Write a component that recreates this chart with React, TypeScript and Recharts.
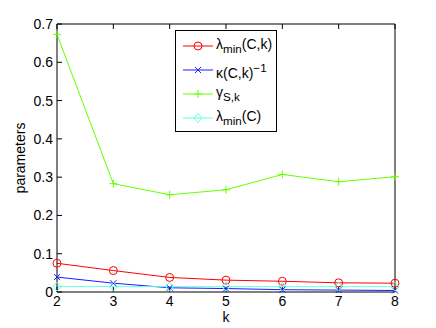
import { LineChart, Line, XAxis, YAxis, Label } from "recharts";

const ks = [2, 3, 4, 5, 6, 7, 8];
const lambdaMinCk = [0.075, 0.056, 0.038, 0.031, 0.028, 0.024, 0.023];
const kappaInv = [0.039, 0.023, 0.011, 0.009, 0.006, 0.005, 0.004];
const gammaSk = [0.673, 0.283, 0.254, 0.267, 0.307, 0.288, 0.301];
const lambdaMinC = [0.014, 0.014, 0.014, 0.014, 0.014, 0.014, 0.014];
const yTicks = [0, 0.1, 0.2, 0.3, 0.4, 0.5, 0.6, 0.7];

const data = ks.map((k, i) => ({
  k,
  lmck: lambdaMinCk[i],
  kinv: kappaInv[i],
  gam: gammaSk[i],
  lmc: lambdaMinC[i],
}));

const RED = "#ff0000";
const BLUE = "#1a1aff";
const GREEN = "#66ff00";
const CYAN = "#66ffdd";
const font = "'Liberation Sans', Arial, sans-serif";

function Marker({ type, cx, cy, color }: { type: string; cx: number; cy: number; color: string }) {
  if (type === "circle")
    return <circle cx={cx} cy={cy} r={4} fill="none" stroke={color} strokeWidth={1} />;
  if (type === "x")
    return (
      <path d={`M${cx - 3},${cy - 3}L${cx + 3},${cy + 3}M${cx - 3},${cy + 3}L${cx + 3},${cy - 3}`} stroke={color} strokeWidth={1} />
    );
  if (type === "plus")
    return <path d={`M${cx - 4},${cy}L${cx + 4},${cy}M${cx},${cy - 4}L${cx},${cy + 4}`} stroke={color} strokeWidth={1} />;
  return (
    <path d={`M${cx},${cy - 4.5}L${cx + 4},${cy}L${cx},${cy + 4.5}L${cx - 4},${cy}Z`} fill="none" stroke={color} strokeWidth={1} />
  );
}

const dotFor = (type: string, color: string) => (p: any) =>
  <Marker key={`${type}-${p.index}`} type={type} cx={p.cx} cy={p.cy} color={color} />;

const legendItems = [
  { type: "circle", color: RED, label: <>λ<sub>min</sub>(C,k)</> },
  { type: "x", color: BLUE, label: <>κ(C,k)<sup>−1</sup></> },
  { type: "plus", color: GREEN, label: <>γ<sub>S,k</sub></> },
  { type: "diamond", color: CYAN, label: <>λ<sub>min</sub>(C)</> },
];

function LegendBox() {
  return (
    <div
      style={{
        position: "absolute",
        left: 175,
        top: 30,
        border: "1px solid #000",
        background: "#fff",
        width: 102,
        height: 102,
        boxSizing: "border-box",
        padding: "3px 0 0 6px",
        fontFamily: font,
        fontSize: 14,
        color: "#000",
      }}
    >
      {legendItems.map((it, i) => (
        <div key={i} style={{ display: "flex", alignItems: "center", height: 24, lineHeight: "14px" }}>
          <svg width={32} height={14} style={{ flex: "none" }}>
            <line x1={1} y1={7} x2={31} y2={7} stroke={it.color} strokeWidth={1} />
            <Marker type={it.type} cx={16} cy={7} color={it.color} />
          </svg>
          <span style={{ marginLeft: 2, whiteSpace: "nowrap" }}>{it.label}</span>
        </div>
      ))}
    </div>
  );
}

export default function App() {
  const tickStyle = { fontSize: 14, fill: "#000", fontFamily: font };
  return (
    <div style={{ position: "absolute", left: 0, top: 0, width: 436, height: 328, background: "#fff" }}>
      <LineChart width={436} height={328} data={data} margin={{ top: 23, right: 40, bottom: 0, left: 0 }}>
        <XAxis
          xAxisId="b"
          dataKey="k"
          type="number"
          domain={[2, 8]}
          ticks={ks}
          height={36}
          tickSize={-5}
          tickMargin={9}
          stroke="#000"
          tick={tickStyle}
        >
          <Label value="k" position="insideBottom" offset={6} style={{ fontSize: 14, fill: "#000", fontFamily: font }} />
        </XAxis>
        <XAxis
          xAxisId="t"
          dataKey="k"
          type="number"
          orientation="top"
          domain={[2, 8]}
          ticks={ks}
          height={1}
          tickSize={-5}
          tickFormatter={() => ""}
          stroke="#000"
        />
        <YAxis
          yAxisId="l"
          domain={[0, 0.7]}
          ticks={yTicks}
          width={57}
          tickSize={-5}
          tickMargin={9}
          stroke="#000"
          tick={tickStyle}
          tickFormatter={(v: number) => (v === 0 ? "0" : String(v))}
        >
          <Label
            value="parameters"
            angle={-90}
            position="insideLeft"
            offset={20}
            style={{ fontSize: 14, fill: "#000", fontFamily: font, textAnchor: "middle" }}
          />
        </YAxis>
        <YAxis
          yAxisId="r"
          orientation="right"
          domain={[0, 0.7]}
          ticks={yTicks}
          width={1}
          tickSize={-5}
          tickFormatter={() => ""}
          stroke="#000"
        />
        <Line xAxisId="b" yAxisId="l" dataKey="lmck" stroke={RED} strokeWidth={1} dot={dotFor("circle", RED)} isAnimationActive={false} />
        <Line xAxisId="b" yAxisId="l" dataKey="kinv" stroke={BLUE} strokeWidth={1} dot={dotFor("x", BLUE)} isAnimationActive={false} />
        <Line xAxisId="b" yAxisId="l" dataKey="gam" stroke={GREEN} strokeWidth={1} dot={dotFor("plus", GREEN)} isAnimationActive={false} />
        <Line xAxisId="b" yAxisId="l" dataKey="lmc" stroke={CYAN} strokeWidth={1} dot={dotFor("diamond", CYAN)} isAnimationActive={false} />
      </LineChart>
      <LegendBox />
    </div>
  );
}
